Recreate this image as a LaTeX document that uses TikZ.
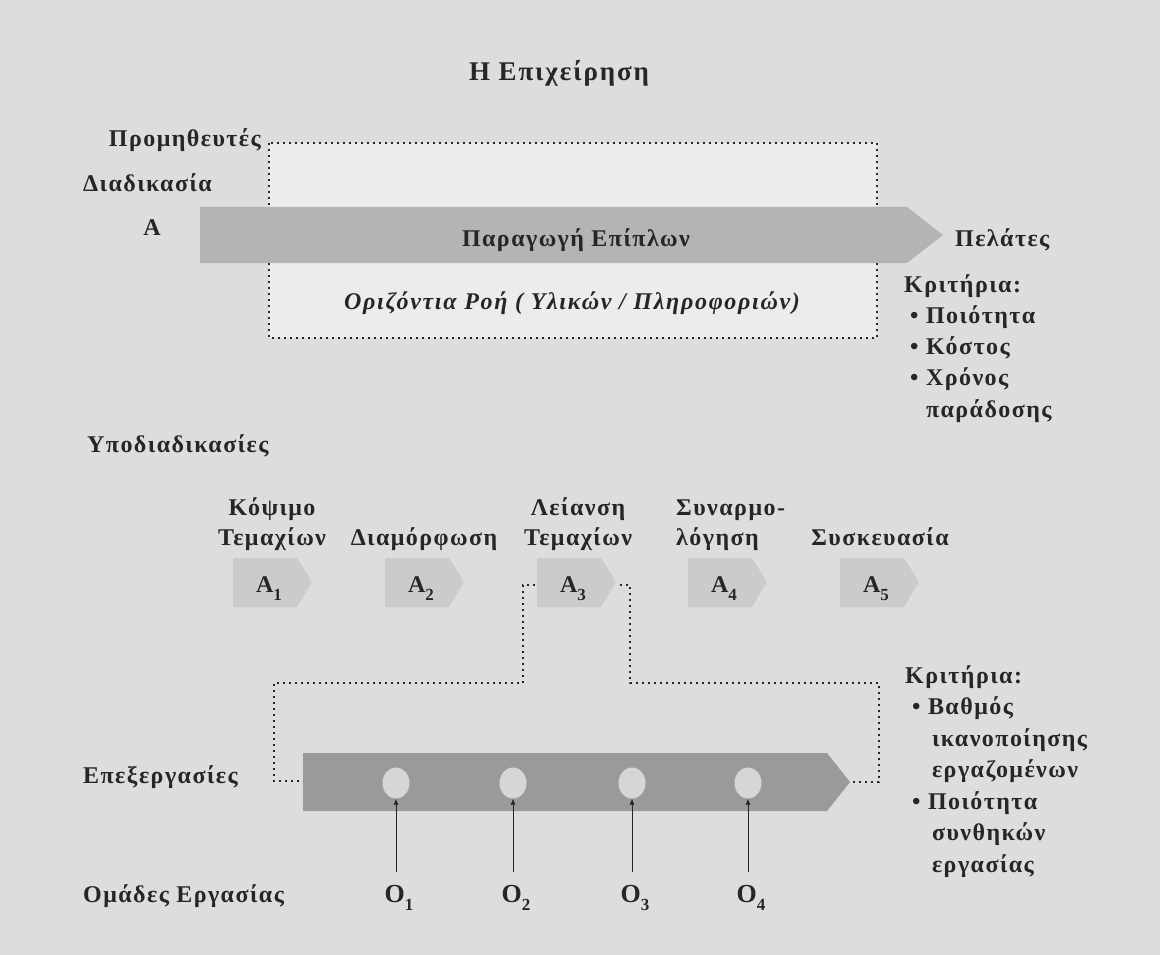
\documentclass[tikz,border=0pt]{standalone}
\usepackage{fontspec}
\setmainfont{Liberation Serif}
\usetikzlibrary{arrows.meta,shapes.geometric}
\definecolor{paper}{RGB}{221,221,221}
\definecolor{boxfill}{RGB}{236,236,236}
\definecolor{bandA}{RGB}{180,180,180}
\definecolor{bandB}{RGB}{154,154,154}
\definecolor{chev}{RGB}{203,203,203}
\definecolor{spot}{RGB}{214,214,214}
\definecolor{ink}{RGB}{38,38,38}
% lowered index digit in the text font
\newcommand{\lowidx}[1]{\raisebox{-0.34em}{\fontsize{17}{17}\selectfont #1}}
% spaced bold face used for all labels
\newcommand{\lblfont}[1]{\bfseries\fontsize{#1}{31.5}\selectfont\addfontfeature{LetterSpace=6}}
\tikzset{
  lbl/.style={font=\lblfont{24}, text=ink, inner sep=0pt},
  dotline/.style={draw=ink, line width=1.8pt, dash pattern=on 1.6pt off 4.4pt},
  feed/.style={draw=ink, line width=0.7pt, -{Latex[length=6pt,width=5pt]}},
  spotnode/.style={ellipse, fill=spot, minimum width=27pt, minimum height=31pt, inner sep=0pt},
}
\begin{document}
\begin{tikzpicture}[x=1pt,y=-1pt]
\useasboundingbox (0,0) rectangle (1160,955);
\fill[paper] (0,0) rectangle (1160,955);

% title
\node[lbl, font={\bfseries\fontsize{27}{30}\selectfont\addfontfeature{LetterSpace=7}}, anchor=base] (title) at (559,81) {Η Επιχείρηση};

% process A: dotted frame with the flow band across it
\fill[boxfill] (269,143) rectangle (877,338);
\draw[dotline] (269,143) rectangle (877,338);
\fill[bandA] (200,207) -- (907,207) -- (943,235) -- (907,263) -- (200,263) -- cycle;
\node[lbl, anchor=base] (flow) at (576,247) {Παραγωγή Επίπλων};
\node[lbl, font={\bfseries\itshape\fontsize{24}{28}\selectfont\addfontfeature{LetterSpace=7}}, anchor=base] (horiz) at (572,309) {Οριζόντια Ροή ( Υλικών / Πληροφοριών)};

\node[lbl, anchor=base east] (suppl) at (261,147) {Προμηθευτές};
\node[lbl, anchor=base west] (proc) at (83,192) {Διαδικασία};
\node[lbl, anchor=base] (procA) at (152,236) {A};
\node[lbl, anchor=base west] (cust) at (955,247) {Πελάτες};

\node[lbl, font=\lblfont{24}\fontsize{24}{31.3}\selectfont, anchor=base west] (crit1) at (904,292) {\begin{tabular}[t]{@{}l@{}}
Κριτήρια:\\
\hspace{6pt}\textbullet\ Ποιότητα\\
\hspace{6pt}\textbullet\ Κόστος\\
\hspace{6pt}\textbullet\ Χρόνος\\
\hspace{6pt}\hphantom{\textbullet\ }παράδοσης
\end{tabular}};

% sub-processes
\node[lbl, anchor=base west] (subs) at (87,452) {Υποδιαδικασίες};

\foreach \i/\x in {1/233,2/385,3/537,4/688,5/840}{
  \fill[chev] (\x,558) -- (\x+64,558) -- (\x+79,582) -- (\x+64,607) -- (\x,607) -- cycle;
  \node[lbl, anchor=base] (a\i) at (\x+36,592) {A\lowidx{\i}};
}
\coordinate (a3l) at (535,585);
\coordinate (a3r) at (620,585);

\node[lbl, anchor=base] (s1) at (272,515) {\begin{tabular}[t]{@{}c@{}}Κόψιμο\\[-1.5pt]Τεμαχίων\end{tabular}};
\node[lbl, anchor=base] (s2) at (424,545) {Διαμόρφωση};
\node[lbl, anchor=base] (s3) at (578,515) {\begin{tabular}[t]{@{}c@{}}Λείανση\\[-1.5pt]Τεμαχίων\end{tabular}};
\node[lbl, anchor=base west] (s4) at (676,515) {\begin{tabular}[t]{@{}l@{}}Συναρμο-\\[-1.5pt]λόγηση\end{tabular}};
\node[lbl, anchor=base] (s5) at (880,545) {Συσκευασία};

% operations band
\fill[bandB] (303,753) -- (827,753) -- (850,782) -- (827,811) -- (303,811) -- cycle;
\coordinate (opl) at (303,781);
\coordinate (opr) at (850,782);
\node[lbl, anchor=base west] (ops) at (83,783) {Επεξεργασίες};

% expansion of A3 into its operations
\draw[dotline] (a3l) -- (523,585) -- (523,683) -- (274,683) -- (274,781) -- (opl);
\draw[dotline] (a3r) -- (630,585) -- (630,683) -- (879,683) -- (879,782) -- (opr);

% work teams feeding the operations
\node[lbl, anchor=base west] (teams) at (83,902) {Ομάδες Εργασίας};
\foreach \i/\x in {1/396,2/513,3/632,4/748}{
  \node[spotnode] (c\i) at (\x,783) {};
  \node[lbl, font=\lblfont{26}, anchor=base] (o\i) at (\x+3,902) {O\lowidx{\i}};
  \draw[feed] (\x,872) -- (c\i.south);
}

\node[lbl, anchor=base west] (crit2) at (905,683) {\begin{tabular}[t]{@{}l@{}}
Κριτήρια:\\
\hspace{7pt}\textbullet\ Βαθμός\\
\hspace{11pt}\hphantom{\textbullet\ }ικανοποίησης\\
\hspace{11pt}\hphantom{\textbullet\ }εργαζομένων\\
\hspace{7pt}\textbullet\ Ποιότητα\\
\hspace{11pt}\hphantom{\textbullet\ }συνθηκών\\
\hspace{11pt}\hphantom{\textbullet\ }εργασίας
\end{tabular}};
\end{tikzpicture}
\end{document}
